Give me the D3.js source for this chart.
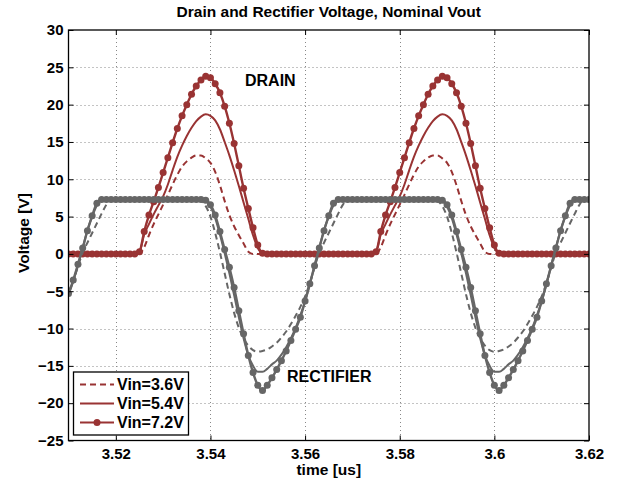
<!DOCTYPE html>
<html><head><meta charset="utf-8">
<script src="https://cdn.jsdelivr.net/npm/d3@7"></script>
<style>body{margin:0;background:#fff}svg{display:block;font-family:"Liberation Sans",Arial,Helvetica,sans-serif}</style>
</head><body><svg id="c" width="621" height="482"></svg>
<script>
// time samples [us]
const time = [3.510,3.511,3.512,3.513,3.514,3.515,3.516,3.517,3.518,3.519,
3.520,3.521,3.522,3.523,3.524,3.525,3.526,3.527,3.528,3.529,
3.530,3.531,3.532,3.533,3.534,3.535,3.536,3.537,3.538,3.539,
3.540,3.541,3.542,3.543,3.544,3.545,3.546,3.547,3.548,3.549,
3.550,3.551,3.552,3.553,3.554,3.555,3.556,3.557,3.558,3.559,
3.560,3.561,3.562,3.563,3.564,3.565,3.566,3.567,3.568,3.569,
3.570,3.571,3.572,3.573,3.574,3.575,3.576,3.577,3.578,3.579,
3.580,3.581,3.582,3.583,3.584,3.585,3.586,3.587,3.588,3.589,
3.590,3.591,3.592,3.593,3.594,3.595,3.596,3.597,3.598,3.599,
3.600,3.601,3.602,3.603,3.604,3.605,3.606,3.607,3.608,3.609,
3.610,3.611,3.612,3.613,3.614,3.615,3.616,3.617,3.618,3.619,3.620];

// Drain voltage [V]
const drain36 = [0,0,0,0,0,0,0,0,0,0, 0,0,0,0,0,0,0.9,2.5,4.0,5.3,
6.6,7.9,9.3,10.6,11.7,12.4,12.9,13.2,13.2,12.8, 12.2,11.0,9.2,7.1,5.2,3.7,2.5,1.4,0.3,0,
0,0,0,0,0,0,0,0,0,0,
0,0,0,0,0,0,0,0,0,0, 0,0,0,0,0,0,0.9,2.5,4.0,5.3,
6.6,7.9,9.3,10.6,11.7,12.4,12.9,13.2,13.2,12.8, 12.2,11.0,9.2,7.1,5.2,3.7,2.5,1.4,0.3,0,
0,0,0,0,0,0,0,0,0,0,
0,0,0,0,0,0,0,0,0,0,0];
const drain54 = [0,0,0,0,0,0,0,0,0,0, 0,0,0,0,0,0.3,2.6,4.0,5.3,6.5,
7.7,9.3,11.2,13.0,14.5,15.8,16.9,17.8,18.4,18.7, 18.5,17.9,16.7,15.0,13.2,11.2,9.1,6.9,4.7,2.5,
0.8,0.1,0,0,0,0,0,0,0,0,
0,0,0,0,0,0,0,0,0,0, 0,0,0,0,0,0.3,2.6,4.0,5.3,6.5,
7.7,9.3,11.2,13.0,14.5,15.8,16.9,17.8,18.4,18.7, 18.5,17.9,16.7,15.0,13.2,11.2,9.1,6.9,4.7,2.5,
0.8,0.1,0,0,0,0,0,0,0,0,
0,0,0,0,0,0,0,0,0,0,0];
const drain72 = [0,0,0,0,0,0,0,0,0,0, 0,0,0,0,0,0.3,3.0,5.2,7.0,8.9,
10.9,12.9,14.9,16.8,18.5,20.0,21.4,22.5,23.3,23.8, 23.6,22.8,21.6,19.8,17.5,14.8,11.8,8.8,6.1,3.5,
1.2,0.1,0,0,0,0,0,0,0,0,
0,0,0,0,0,0,0,0,0,0, 0,0,0,0,0,0.3,3.0,5.2,7.0,8.9,
10.9,12.9,14.9,16.8,18.5,20.0,21.4,22.5,23.3,23.8, 23.6,22.8,21.6,19.8,17.5,14.8,11.8,8.8,6.1,3.5,
1.2,0.1,0,0,0,0,0,0,0,0,
0,0,0,0,0,0,0,0,0,0,0];

// Rectifier voltage [V]
const rect36 = [-5.2,-3.6,-1.7,0.2,1.5,2.8,4.1,5.4,6.6,7.3, 7.3,7.3,7.3,7.3,7.3,7.3,7.3,7.3,7.3,7.3,
7.3,7.3,7.3,7.3,7.3,7.3,7.3,7.3,7.1,6.4, 5.0,2.8,0.2,-2.6,-5.4,-7.9,-9.9,-11.3,-12.3,-12.9,
-13.1,-13.0,-12.8,-12.4,-11.9,-11.2,-10.4,-9.4,-8.3,-7.1,
-5.7,-3.9,-1.8,0.2,1.5,2.8,4.1,5.4,6.6,7.3, 7.3,7.3,7.3,7.3,7.3,7.3,7.3,7.3,7.3,7.3,
7.3,7.3,7.3,7.3,7.3,7.3,7.3,7.3,7.1,6.4, 5.0,2.8,0.2,-2.6,-5.4,-7.9,-9.9,-11.3,-12.3,-12.9,
-13.1,-13.0,-12.8,-12.4,-11.9,-11.2,-10.4,-9.4,-8.3,-7.1,
-5.7,-3.9,-1.8,0.2,1.5,2.8,4.1,5.4,6.6,7.3,7.3];
const rect54 = [-5.5,-3.7,-1.5,0.8,3.2,5.0,6.5,7.2,7.3,7.3, 7.3,7.3,7.3,7.3,7.3,7.3,7.3,7.3,7.3,7.3,
7.3,7.3,7.3,7.3,7.3,7.3,7.3,7.3,7.3,7.1, 6.3,4.8,2.6,0.1,-2.6,-5.5,-8.5,-11.3,-13.6,-15.0,
-15.8,-15.8,-15.4,-14.8,-14.3,-13.5,-12.5,-11.3,-9.9,-8.2,
-6.4,-4.1,-1.6,0.8,3.2,5.0,6.5,7.2,7.3,7.3, 7.3,7.3,7.3,7.3,7.3,7.3,7.3,7.3,7.3,7.3,
7.3,7.3,7.3,7.3,7.3,7.3,7.3,7.3,7.3,7.1, 6.3,4.8,2.6,0.1,-2.6,-5.5,-8.5,-11.3,-13.6,-15.0,
-15.8,-15.8,-15.4,-14.8,-14.3,-13.5,-12.5,-11.3,-9.9,-8.2,
-6.4,-4.1,-1.6,0.8,3.2,5.0,6.5,7.2,7.3,7.3,7.3];
const rect72 = [-5.3,-3.5,-1.4,0.8,3.1,5.1,6.8,7.3,7.3,7.3, 7.3,7.3,7.3,7.3,7.3,7.3,7.3,7.3,7.3,7.3,
7.3,7.3,7.3,7.3,7.3,7.3,7.3,7.3,7.3,7.2, 6.6,5.2,3.0,0.6,-1.8,-4.5,-7.6,-10.7,-13.6,-15.9,
-17.6,-18.3,-17.6,-16.6,-15.5,-14.3,-13.0,-11.6,-10.1,-8.5,
-6.3,-4.0,-1.6,0.8,3.1,5.1,6.8,7.3,7.3,7.3, 7.3,7.3,7.3,7.3,7.3,7.3,7.3,7.3,7.3,7.3,
7.3,7.3,7.3,7.3,7.3,7.3,7.3,7.3,7.3,7.2, 6.6,5.2,3.0,0.6,-1.8,-4.5,-7.6,-10.7,-13.6,-15.9,
-17.6,-18.3,-17.6,-16.6,-15.5,-14.3,-13.0,-11.6,-10.1,-8.5,
-6.3,-4.0,-1.6,0.8,3.1,5.1,6.8,7.3,7.3,7.3,7.3];

const xTicks = [3.52,3.54,3.56,3.58,3.6,3.62];
const xTickLabels = ["3.52","3.54","3.56","3.58","3.6","3.62"];
const yTicks = [-25,-20,-15,-10,-5,0,5,10,15,20,25,30];
const legendLabels = ["Vin=3.6V","Vin=5.4V","Vin=7.2V"];
const titleText = "Drain and Rectifier Voltage, Nominal Vout";
const xLabel = "time [us]";
const yLabel = "Voltage [V]";

const RED = "#993333", GRAY = "#666666";
const svg = d3.select("#c");
const m = {l:68.5, r:589, t:30, b:440.5};
const x = d3.scaleLinear().domain([3.51,3.62]).range([m.l,m.r]);
const y = d3.scaleLinear().domain([-25,30]).range([m.b,m.t]);

// grid
const grid = svg.append("g");
grid.selectAll(".gx").data(xTicks.filter(v=>v<3.619)).enter().append("line")
  .attr("x1",d=>Math.round(x(d))+0.5).attr("x2",d=>Math.round(x(d))+0.5).attr("y1",m.t).attr("y2",m.b)
  .attr("stroke","#888").attr("stroke-dasharray","1,3");
grid.selectAll(".gy").data(yTicks.filter(v=>v>-25&&v<30)).enter().append("line")
  .attr("y1",d=>Math.round(y(d))+0.5).attr("y2",d=>Math.round(y(d))+0.5).attr("x1",m.l).attr("x2",m.r)
  .attr("stroke","#888").attr("stroke-dasharray","1,3");

svg.append("clipPath").attr("id","pc").append("rect")
  .attr("x",m.l).attr("y",m.t).attr("width",m.r-m.l).attr("height",m.b-m.t);
const plot = svg.append("g").attr("clip-path","url(#pc)");

function draw(vals,color,opts){
  const pts = time.map((t,i)=>[t,vals[i]]);
  const line = d3.line().x(d=>x(d[0])).y(d=>y(d[1])).curve(d3.curveMonotoneX);
  plot.append("path").attr("d",line(pts)).attr("fill","none").attr("stroke",color)
    .attr("stroke-width",opts.marker?2.4:2).attr("stroke-dasharray",opts.dash||null).attr("stroke-linejoin","round");
  if(opts.marker){
    plot.append("g").selectAll("circle").data(pts).enter().append("circle")
      .attr("cx",d=>x(d[0])).attr("cy",d=>y(d[1])).attr("r",3.5).attr("fill",color);
  }
}
draw(drain36,RED,{dash:"6,4"});
draw(drain54,RED,{});
draw(drain72,RED,{marker:true});
draw(rect36,GRAY,{dash:"6,4"});
draw(rect54,GRAY,{});
draw(rect72,GRAY,{marker:true});

// axes
const fontSize = 15;
const ax = svg.append("g").attr("font-weight","bold");
ax.append("g").attr("transform",`translate(${m.l},0)`)
  .call(d3.axisLeft(y).tickValues(yTicks).tickSize(-5).tickPadding(5));
ax.append("g").attr("transform",`translate(0,${m.b})`)
  .call(d3.axisBottom(x).tickValues(xTicks).tickFormat((d,i)=>xTickLabels[i]).tickSize(-5).tickPadding(8));
ax.append("g").attr("transform",`translate(${m.r},0)`)
  .call(d3.axisRight(y).tickValues(yTicks).tickSize(-5).tickFormat(""));
ax.append("g").attr("transform",`translate(0,${m.t})`)
  .call(d3.axisTop(x).tickValues(xTicks).tickSize(-5).tickFormat(""));
ax.selectAll(".domain").remove();
ax.selectAll(".tick line").attr("stroke","#000");
ax.selectAll(".tick text").attr("font-size",fontSize).attr("font-family","Liberation Sans, Arial, sans-serif").attr("fill","#000");
svg.append("rect").attr("x",m.l).attr("y",m.t).attr("width",m.r-m.l).attr("height",m.b-m.t)
  .attr("fill","none").attr("stroke","#000").attr("stroke-width",1.3);

// texts
svg.append("text").attr("x",(m.l+m.r)/2).attr("y",17).attr("text-anchor","middle")
  .attr("font-size",15.5).attr("font-weight","bold").text(titleText);
svg.append("text").attr("x",(m.l+m.r)/2).attr("y",475).attr("text-anchor","middle")
  .attr("font-size",15.5).attr("font-weight","bold").text(xLabel);
svg.append("text").attr("transform","translate(29,233) rotate(-90)").attr("text-anchor","middle")
  .attr("font-size",15.5).attr("font-weight","bold").text(yLabel);
svg.append("text").attr("x",245).attr("y",86).attr("font-size",16).attr("font-weight","bold").text("DRAIN");
svg.append("text").attr("x",287).attr("y",382).attr("font-size",16).attr("font-weight","bold").text("RECTIFIER");

// legend
const lg = svg.append("g");
lg.append("rect").attr("x",73.5).attr("y",372).attr("width",115).attr("height",63)
  .attr("fill","#fff").attr("stroke","#000").attr("stroke-width",1.3);
const lyPos = [384.5,403.5,422.5];
const lstyles = [{dash:"6,4"},{},{marker:true}];
legendLabels.forEach((lab,i)=>{
  lg.append("line").attr("x1",80).attr("x2",114).attr("y1",lyPos[i]).attr("y2",lyPos[i])
    .attr("stroke",RED).attr("stroke-width",2).attr("stroke-dasharray",lstyles[i].dash||null);
  if(lstyles[i].marker) lg.append("circle").attr("cx",97).attr("cy",lyPos[i]).attr("r",3.5).attr("fill",RED);
  lg.append("text").attr("x",117).attr("y",lyPos[i]+5.5).attr("font-size",16).attr("font-weight","bold").text(lab);
});
</script></body></html>
